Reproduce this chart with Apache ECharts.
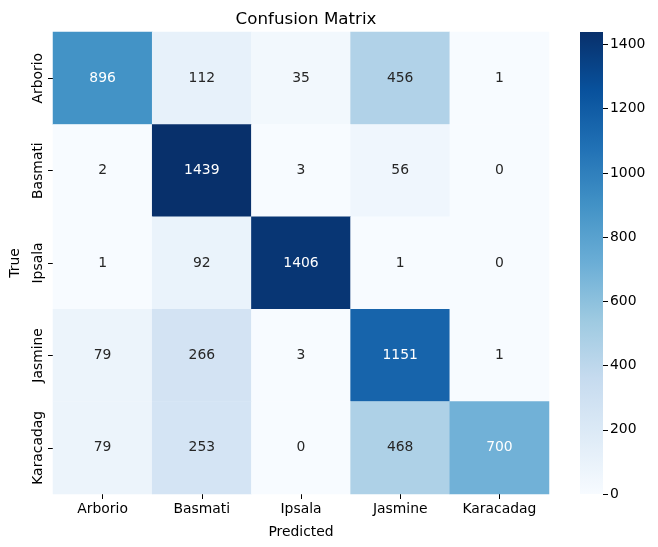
<!DOCTYPE html>
<html>
<head>
<meta charset="utf-8">
<script src="https://cdn.jsdelivr.net/npm/echarts@6/dist/echarts.min.js"></script>
<style>
  html, body { margin: 0; padding: 0; background: #fff; }
  #chart { width: 658px; height: 547px; }
</style>
</head>
<body>
<div id="chart"></div>
<script>
const predictedLabels = ["Arborio", "Basmati", "Ipsala", "Jasmine", "Karacadag"];
const trueLabels = ["Arborio", "Basmati", "Ipsala", "Jasmine", "Karacadag"];
// rows = true class, columns = predicted class
const matrix = [
  [896, 112, 35, 456, 1],
  [2, 1439, 3, 56, 0],
  [1, 92, 1406, 1, 0],
  [79, 266, 3, 1151, 1],
  [79, 253, 0, 468, 700]
];
const colorbarTicks = [0, 200, 400, 600, 800, 1000, 1200, 1400];

// matplotlib "Blues"
const blues = ["#f7fbff", "#deebf7", "#c6dbef", "#9ecae1", "#6baed6",
  "#4292c6", "#2171b5", "#08519c", "#08306b"];

const vmax = Math.max(...matrix.flat());
const vmin = 0;
const font = "DejaVu Sans";

function hexToRgb(h) {
  return [1, 3, 5].map(i => parseInt(h.slice(i, i + 2), 16) / 255);
}

// seaborn picks text colour from the cell luminance
function cellColor(v) {
  const t = (v - vmin) / (vmax - vmin) * (blues.length - 1);
  const i = Math.min(Math.floor(t), blues.length - 2);
  const f = t - i;
  const a = hexToRgb(blues[i]), b = hexToRgb(blues[i + 1]);
  return a.map((c, k) => c + (b[k] - c) * f);
}
function luminance(rgb) {
  const lin = rgb.map(c => c <= 0.03928 ? c / 12.92 : Math.pow((c + 0.055) / 1.055, 2.4));
  return 0.2126 * lin[0] + 0.7152 * lin[1] + 0.0722 * lin[2];
}

const heatData = [];
matrix.forEach((row, r) => {
  row.forEach((v, c) => {
    const light = luminance(cellColor(v)) > 0.408;
    heatData.push({
      value: [c, r, v],
      label: { color: light ? "#262626" : "#ffffff" }
    });
  });
});

const chart = echarts.init(document.getElementById("chart"));

const option = {
  backgroundColor: "#ffffff",
  animation: false,
  title: {
    text: "Confusion Matrix",
    left: 301,
    textAlign: "center",
    top: 6,
    textStyle: { fontFamily: font, fontSize: 16.7, fontWeight: "normal", color: "#000" }
  },
  grid: [
    { left: 53, right: 109, top: 32, bottom: 53, outerBoundsMode: "none", containLabel: false },
    { left: 580, width: 23, top: 32, bottom: 53, outerBoundsMode: "none", containLabel: false }
  ],
  xAxis: [
    {
      gridIndex: 0,
      type: "category",
      data: predictedLabels,
      name: "Predicted",
      nameLocation: "middle",
      nameGap: 31,
      nameTextStyle: { fontFamily: font, fontSize: 13.9, color: "#000" },
      axisLine: { show: false },
      axisTick: { show: true, alignWithLabel: true, length: 5, lineStyle: { color: "#000" } },
      axisLabel: { fontFamily: font, fontSize: 13.9, color: "#000", margin: 8, interval: 0 },
      splitLine: { show: false }
    },
    {
      gridIndex: 1,
      type: "category",
      data: [""],
      show: false
    }
  ],
  yAxis: [
    {
      gridIndex: 0,
      type: "category",
      data: trueLabels,
      inverse: true,
      name: "True",
      nameLocation: "middle",
      nameGap: 31,
      nameRotate: 90,
      nameTextStyle: { fontFamily: font, fontSize: 13.9, color: "#000" },
      axisLine: { show: false },
      axisTick: { show: true, alignWithLabel: true, length: 5, lineStyle: { color: "#000" } },
      axisLabel: { fontFamily: font, fontSize: 13.9, color: "#000", rotate: 90, margin: 8, interval: 0 },
      splitLine: { show: false }
    },
    {
      gridIndex: 1,
      type: "value",
      position: "right",
      min: vmin,
      max: vmax,
      interval: 200,
      axisLine: { show: false },
      axisTick: { show: true, length: 5, lineStyle: { color: "#000" } },
      axisLabel: {
        fontFamily: font, fontSize: 13.9, color: "#000", margin: 7,
        showMaxLabel: false,
        formatter: v => colorbarTicks.includes(v) ? String(v) : ""
      },
      splitLine: { show: false }
    }
  ],
  visualMap: {
    show: false,
    min: vmin,
    max: vmax,
    dimension: 2,
    seriesIndex: 0,
    inRange: { color: blues }
  },
  series: [
    {
      type: "heatmap",
      xAxisIndex: 0,
      yAxisIndex: 0,
      data: heatData,
      label: {
        show: true,
        fontFamily: font,
        fontSize: 13.9,
        formatter: p => String(p.value[2])
      },
      itemStyle: { borderWidth: 0 },
      emphasis: { disabled: true }
    },
    {
      type: "bar",
      xAxisIndex: 1,
      yAxisIndex: 1,
      barWidth: "100%",
      silent: true,
      data: [vmax],
      itemStyle: {
        color: new echarts.graphic.LinearGradient(0, 1, 0, 0,
          blues.map((c, i) => ({ offset: i / (blues.length - 1), color: c })))
      }
    }
  ]
};

chart.setOption(option);
</script>
</body>
</html>
